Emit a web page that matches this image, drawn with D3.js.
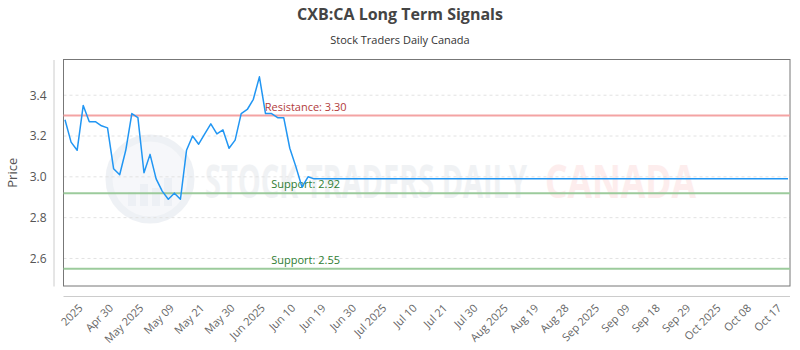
<!DOCTYPE html>
<html>
<head>
<meta charset="utf-8">
<script src="https://cdn.jsdelivr.net/npm/d3@7"></script>
<style>
  body { margin: 0; background: #fff; }
  text { font-family: "Open Sans", sans-serif; }
</style>
</head>
<body>
<div id="chart"></div>
<script>
// closing prices, one per trading day
const prices = [3.28, 3.17, 3.13, 3.35, 3.27, 3.27, 3.25, 3.24, 3.04, 3.01,
  3.13, 3.31, 3.29, 3.02, 3.11, 2.99, 2.93, 2.89, 2.92, 2.89,
  3.13, 3.20, 3.16, 3.21, 3.26, 3.21, 3.23, 3.14, 3.18, 3.31,
  3.33, 3.38, 3.49, 3.31, 3.31, 3.29, 3.29, 3.14, 3.05, 2.95,
  3.00, 2.99];
const projection = 2.99;   // flat line carried to the end of the axis
const totalDays = 120;
const tickLabels = ["2025", "Apr 30", "May 2025", "May 09", "May 21", "May 30",
  "Jun 2025", "Jun 10", "Jun 19", "Jun 30", "Jul 2025", "Jul 10", "Jul 21",
  "Jul 30", "Aug 2025", "Aug 19", "Aug 28", "Sep 2025", "Sep 09", "Sep 18",
  "Sep 29", "Oct 2025", "Oct 08", "Oct 17"];
const yTicks = [2.6, 2.8, 3.0, 3.2, 3.4];
const resistance = [3.30];
const support = [2.92, 2.55];

const width = 800, height = 350;
const plot = { left: 63.5, right: 790, top: 59.5, bottom: 286 };

const svg = d3.select("#chart").append("svg")
  .attr("width", width)
  .attr("height", height);

const x = d3.scaleLinear()
  .domain([0, totalDays - 1])
  .range([plot.left + 1.5, plot.right - 2]);
const y = d3.scaleLinear()
  .domain([2.465, 3.575])
  .range([plot.bottom, plot.top]);

// titles
svg.append("text")
  .attr("x", 400).attr("y", 20)
  .attr("text-anchor", "middle")
  .attr("font-size", 16).attr("font-weight", "bold")
  .attr("fill", "#444")
  .text("CXB:CA Long Term Signals");
svg.append("text")
  .attr("x", 400).attr("y", 44)
  .attr("text-anchor", "middle")
  .attr("font-size", 11).attr("fill", "#333")
  .text("Stock Traders Daily Canada");

// watermark
const wm = svg.append("g").attr("opacity", 0.5);
wm.append("circle")
  .attr("cx", 150).attr("cy", 179).attr("r", 41)
  .attr("fill", "#eef1f6").attr("stroke", "#dfe4ec").attr("stroke-width", 7);
[[128, 14], [140, 22], [152, 18], [164, 28]].forEach(b => {
  wm.append("rect")
    .attr("x", b[0]).attr("y", 206 - b[1])
    .attr("width", 8).attr("height", b[1])
    .attr("fill", "#dde3ec");
});
wm.append("text")
  .attr("x", 205).attr("y", 198)
  .attr("font-family", "DejaVu Sans Condensed").attr("font-size", 46)
  .attr("font-weight", "bold")
  .attr("textLength", 322).attr("lengthAdjust", "spacingAndGlyphs")
  .attr("fill", "#e3e6eb")
  .text("STOCK TRADERS DAILY");
wm.append("text")
  .attr("x", 545).attr("y", 198)
  .attr("font-family", "DejaVu Sans Condensed").attr("font-size", 46)
  .attr("font-weight", "bold")
  .attr("textLength", 151).attr("lengthAdjust", "spacingAndGlyphs")
  .attr("fill", "#fcdcdc")
  .text("CANADA");

// grid
svg.append("g")
  .selectAll("line")
  .data(yTicks)
  .join("line")
  .attr("x1", plot.left).attr("x2", plot.right)
  .attr("y1", d => y(d)).attr("y2", d => y(d))
  .attr("stroke", "#e2e2e2")
  .attr("stroke-dasharray", "3,3");

// frame
svg.append("rect")
  .attr("x", plot.left).attr("y", plot.top)
  .attr("width", plot.right - plot.left)
  .attr("height", plot.bottom - plot.top)
  .attr("fill", "none")
  .attr("stroke", "#777");

// y axis (offset to the left)
const yAxis = svg.append("g")
  .attr("transform", `translate(${plot.left - 10},0)`)
  .call(d3.axisLeft(y).tickValues(yTicks).tickFormat(d3.format(".1f")).tickSize(0).tickPadding(7));
yAxis.select(".domain").attr("stroke", "#ccc");
yAxis.selectAll("text").attr("font-size", 12).attr("fill", "#555")
  .attr("font-family", "Open Sans");

svg.append("text")
  .attr("transform", `translate(17,${(plot.top + plot.bottom) / 2}) rotate(-90)`)
  .attr("text-anchor", "middle")
  .attr("font-size", 13).attr("fill", "#555")
  .text("Price");

// x axis (offset below)
const tickIdx = tickLabels.map((d, i) => totalDays - 1 - 5 * (tickLabels.length - 1 - i));
const xAxis = svg.append("g")
  .attr("transform", `translate(0,${plot.bottom + 10})`)
  .call(d3.axisBottom(x).tickValues(tickIdx)
    .tickFormat((d, i) => tickLabels[i]).tickSize(0));
xAxis.select(".domain").attr("stroke", "#ccc").attr("d", `M${plot.left},0.5H${plot.right}`);
xAxis.selectAll("text")
  .attr("font-size", 11).attr("fill", "#666")
  .attr("font-family", "Open Sans")
  .attr("text-anchor", "end")
  .attr("y", 0)
  .attr("dy", "0.35em")
  .attr("transform", "translate(-9,10) rotate(-45)");

// support / resistance
const levels = svg.append("g");
levels.selectAll("line.res")
  .data(resistance)
  .join("line")
  .attr("class", "res")
  .attr("x1", plot.left).attr("x2", plot.right)
  .attr("y1", d => y(d)).attr("y2", d => y(d))
  .attr("stroke", "#f4a3a3").attr("stroke-width", 2);
levels.selectAll("line.sup")
  .data(support)
  .join("line")
  .attr("class", "sup")
  .attr("x1", plot.left).attr("x2", plot.right)
  .attr("y1", d => y(d)).attr("y2", d => y(d))
  .attr("stroke", "#9ccb9c").attr("stroke-width", 2);

// price line
const line = d3.line()
  .x(d => x(d[0]))
  .y(d => y(d[1]));
const series = prices.map((v, i) => [i, v]).concat([[totalDays - 1, projection]]);
svg.append("path")
  .datum(series)
  .attr("fill", "none")
  .attr("stroke", "#2196f3")
  .attr("stroke-width", 1.5)
  .attr("stroke-linejoin", "round")
  .attr("d", line);

// level labels
const labelX = plot.left + (plot.right - plot.left) / 3;
levels.selectAll("text.res")
  .data(resistance)
  .join("text")
  .attr("class", "res")
  .attr("x", labelX).attr("y", d => y(d) - 5)
  .attr("text-anchor", "middle")
  .attr("font-size", 11).attr("fill", "#b23b3b")
  .text(d => "Resistance: " + d.toFixed(2));
levels.selectAll("text.sup")
  .data(support)
  .join("text")
  .attr("class", "sup")
  .attr("x", labelX).attr("y", d => y(d) - 5)
  .attr("text-anchor", "middle")
  .attr("font-size", 11).attr("fill", "#2e7d32")
  .text(d => "Support: " + d.toFixed(2));
</script>
</body>
</html>
